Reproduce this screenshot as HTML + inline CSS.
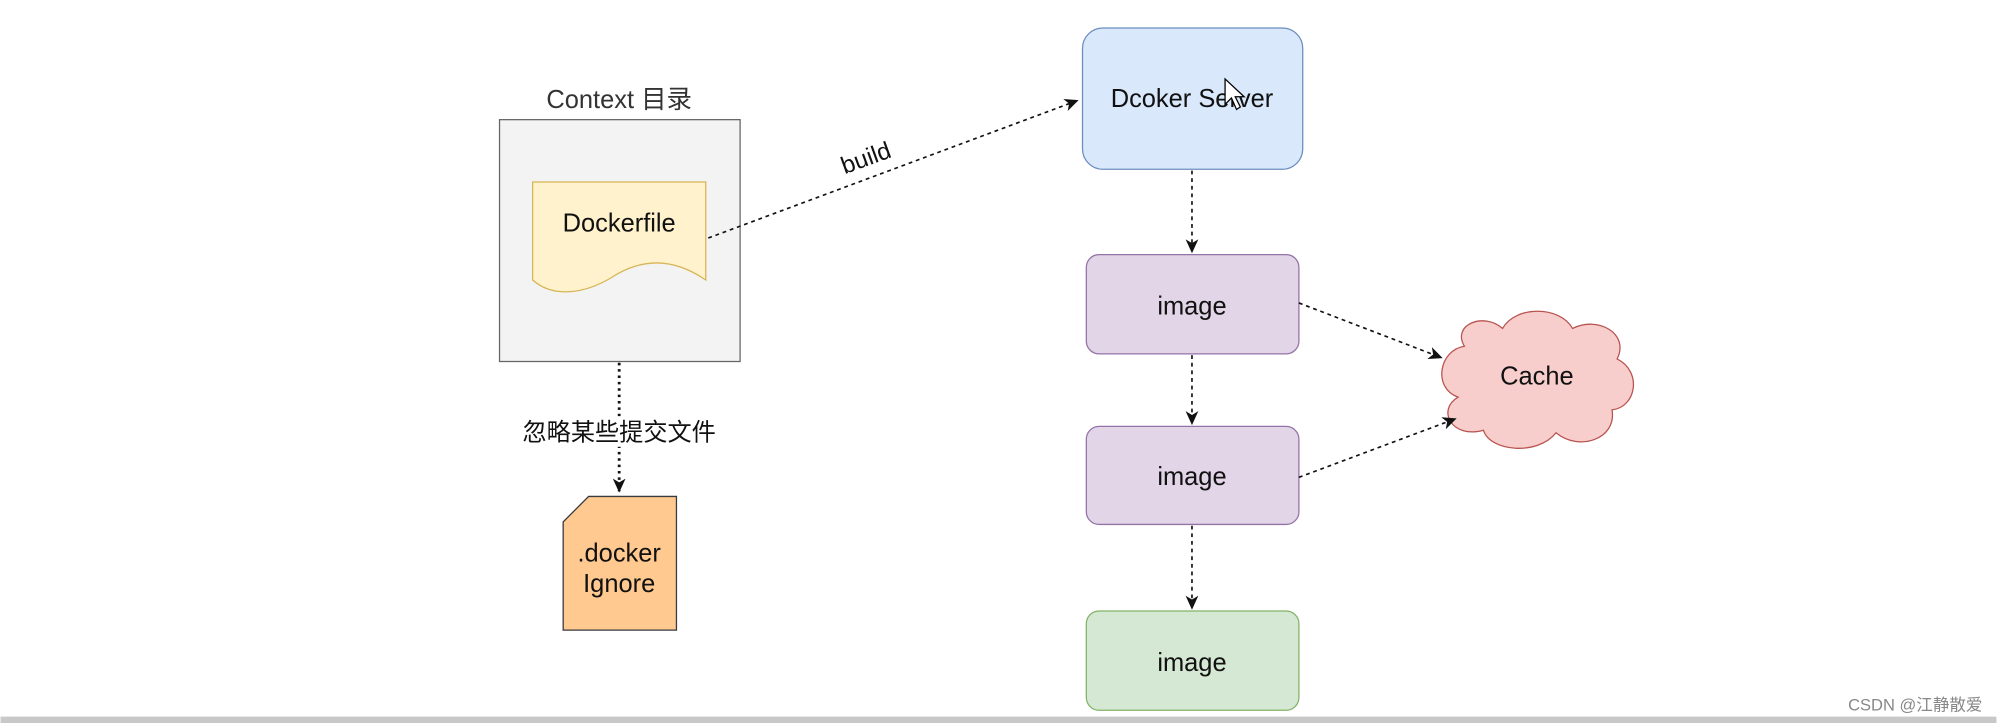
<!DOCTYPE html>
<html><head><meta charset="utf-8"><style>html,body{margin:0;padding:0;background:#fff;}svg{display:block}</style></head>
<body>
<svg width="1997" height="723" viewBox="0 0 1568 568" xmlns="http://www.w3.org/2000/svg" font-family="'Liberation Sans','Noto Sans CJK SC',sans-serif">
<defs><marker id="a" markerWidth="12" markerHeight="12" refX="10" refY="6" orient="auto" markerUnits="userSpaceOnUse"><path d="M0,1 L11,6 L0,11 L3,6 Z" fill="#111"/></marker></defs>
<rect width="1568" height="568" fill="#fff"/>
<rect x="0" y="563" width="1568" height="5" fill="#c8c8c8"/>
<text x="486" y="85" font-size="20" fill="#333" text-anchor="middle">Context 目录</text>
<rect x="392" y="94" width="189" height="190" fill="#f3f3f3" stroke="#666" stroke-width="1"/>
<path d="M418,143 H554 V220 C525,200 500,205 480,218 C460,230 435,235 418,220 Z" fill="#fff2cc" stroke="#d6b656" stroke-width="1"/>
<text x="486" y="182" font-size="20" fill="#111" text-anchor="middle">Dockerfile</text>
<line x1="556" y1="187" x2="846" y2="79" stroke="#111" stroke-width="1.3" stroke-dasharray="3,3" marker-end="url(#a)"/>
<text x="0" y="0" font-size="19" fill="#111" text-anchor="middle" transform="translate(682,130) rotate(-20)">build</text>
<line x1="486" y1="285" x2="486" y2="386" stroke="#111" stroke-width="2.2" stroke-dasharray="2,3" marker-end="url(#a)"/>
<rect x="400" y="327" width="172" height="24" fill="#fff"/>
<text x="486" y="346" font-size="19" fill="#111" text-anchor="middle">忽略某些提交文件</text>
<path d="M462,390 H531 V495 H442 V410 Z" fill="#ffc98f" stroke="#36393d" stroke-width="1"/>
<text x="486" y="441" font-size="20" fill="#111" text-anchor="middle">.docker</text>
<text x="486" y="465" font-size="20" fill="#111" text-anchor="middle">Ignore</text>
<rect x="850" y="22" width="173" height="111" rx="16" fill="#dae8fc" stroke="#6c8ebf"/>
<text x="936" y="84" font-size="20" fill="#111" text-anchor="middle">Dcoker Server</text>
<path d="M962,62 L962,82 L967,77 L971,86 L974,84 L970,76 L977,76 Z" fill="#fff" stroke="#000" stroke-width="1"/>
<rect x="853" y="200" width="167" height="78" rx="10" fill="#e1d5e7" stroke="#9673a6"/>
<text x="936" y="247" font-size="20" fill="#111" text-anchor="middle">image</text>
<rect x="853" y="335" width="167" height="77" rx="10" fill="#e1d5e7" stroke="#9673a6"/>
<text x="936" y="381" font-size="20" fill="#111" text-anchor="middle">image</text>
<rect x="853" y="480" width="167" height="78" rx="10" fill="#d5e8d4" stroke="#82b366"/>
<text x="936" y="527" font-size="20" fill="#111" text-anchor="middle">image</text>
<line x1="936" y1="134" x2="936" y2="198" stroke="#111" stroke-width="1.3" stroke-dasharray="3,3" marker-end="url(#a)"/>
<line x1="936" y1="279" x2="936" y2="333" stroke="#111" stroke-width="1.3" stroke-dasharray="3,3" marker-end="url(#a)"/>
<line x1="936" y1="413" x2="936" y2="478" stroke="#111" stroke-width="1.3" stroke-dasharray="3,3" marker-end="url(#a)"/>
<path d="M1150,272 C1140,255 1165,245 1180,258 C1190,240 1225,240 1235,258 C1255,248 1280,262 1270,282 C1290,292 1285,320 1266,322 C1270,345 1240,355 1222,340 C1208,358 1170,355 1165,338 C1140,345 1128,322 1145,312 C1125,305 1130,275 1150,272 Z" fill="#f8cecc" stroke="#b85450" stroke-width="1"/>
<text x="1207" y="302" font-size="20" fill="#111" text-anchor="middle">Cache</text>
<line x1="1020" y1="238" x2="1132" y2="281" stroke="#111" stroke-width="1.3" stroke-dasharray="3,3" marker-end="url(#a)"/>
<line x1="1020" y1="375" x2="1143" y2="329" stroke="#111" stroke-width="1.3" stroke-dasharray="3,3" marker-end="url(#a)"/>
<text x="1557" y="558" font-size="13" fill="#888" text-anchor="end">CSDN @江静散爱</text>
</svg>
</body></html>
